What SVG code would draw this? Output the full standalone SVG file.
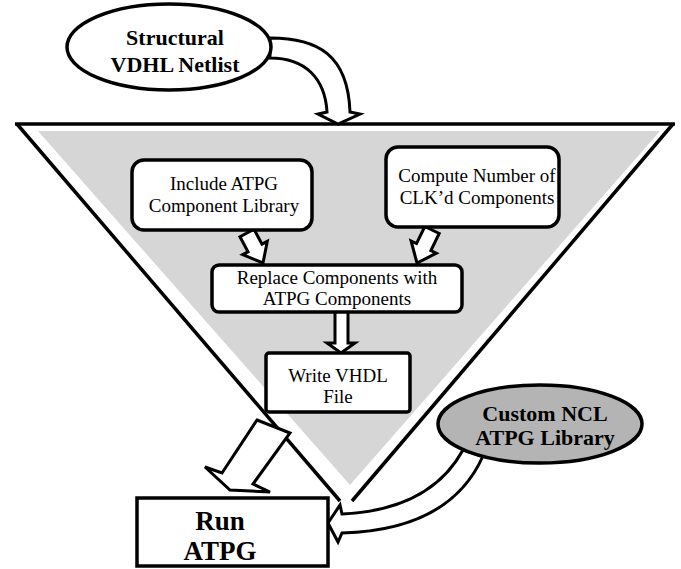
<svg xmlns="http://www.w3.org/2000/svg" width="681" height="569" viewBox="0 0 681 569">
<style>
.box{fill:#fff;stroke:#000;stroke-width:3.5}
.arr{fill:#fff;stroke:#000;stroke-width:3;stroke-linejoin:miter}
.ln{fill:none;stroke:#000;stroke-width:3.5}
.t{font-family:"Liberation Serif","Times New Roman",serif;font-size:19px;text-anchor:middle;fill:#000}
.b{font-family:"Liberation Serif","Times New Roman",serif;font-size:22px;font-weight:bold;text-anchor:middle;fill:#000}
</style>
<rect width="681" height="569" fill="#fff"/>
<g id="process-triangle">
<polygon points="38,131 660,131 350,485" fill="#d6d6d6"/>
<line class="ln" x1="15" y1="124" x2="675" y2="124"/>
<line class="ln" x1="17" y1="124" x2="340" y2="501"/>
<line class="ln" x1="673" y1="124" x2="352" y2="501"/>
</g>
<g id="connectors">
<path class="arr" d="M270,38 C318,38 348,55 350,112 L360,114 L338,124 L318,114 L327,112 C325,78 305,58 270,58 Z"/>
<polygon class="arr" points="240,236.8 254,229.2 262,244.2 267.3,241.4 263,263 242.7,254.6 248,251.8"/>
<polygon class="arr" points="439.2,233.5 424.8,226.5 416.5,243.6 411.1,241 417,263 436.3,253.2 430.9,250.6"/>
<polygon class="arr" points="335,311 348,311 348,343 355,343 341,353 327,343 335,343"/>
<polygon class="arr" points="257,420 290,433 253,484 270,492 230,490 205,467 222,473"/>
<path class="arr" d="M463,450 Q430,510 342,514 L340,505 L328,523 L338,542 L342,533 Q450,530 483,456 Z"/>
</g>
<g id="structural-netlist">
<ellipse cx="169" cy="47" rx="102" ry="43" fill="#fff" stroke="#000" stroke-width="3.5"/>
<text class="b" x="175" y="45">Structural</text>
<text class="b" x="175" y="72">VDHL Netlist</text>
</g>
<g id="include-library">
<rect class="box" x="132" y="160" width="180" height="70" rx="12"/>
<text class="t" x="224" y="190">Include ATPG</text>
<text class="t" x="224" y="212">Component Library</text>
</g>
<g id="compute-number">
<rect class="box" x="386" y="147" width="173" height="80" rx="12"/>
<text class="t" x="477" y="182">Compute Number of</text>
<text class="t" x="477" y="204">CLK’d Components</text>
</g>
<g id="replace-components">
<rect class="box" x="212" y="265" width="250" height="47" rx="7"/>
<text class="t" x="337" y="284">Replace Components with</text>
<text class="t" x="337" y="305">ATPG Components</text>
</g>
<g id="write-vhdl">
<rect class="box" x="266" y="353" width="144" height="59" rx="3"/>
<text class="t" x="338" y="382">Write VHDL</text>
<text class="t" x="338" y="403">File</text>
</g>
<g id="custom-ncl-library">
<ellipse cx="540" cy="424" rx="102" ry="39" fill="#b4b4b4" stroke="#000" stroke-width="3.5"/>
<text class="b" x="545" y="421">Custom NCL</text>
<text class="b" x="545" y="445">ATPG Library</text>
</g>
<g id="run-atpg">
<rect class="box" x="137" y="498" width="191" height="68"/>
<text class="b" style="font-size:27px" x="220" y="530">Run</text>
<text class="b" style="font-size:27px" x="220" y="560">ATPG</text>
</g>
</svg>
